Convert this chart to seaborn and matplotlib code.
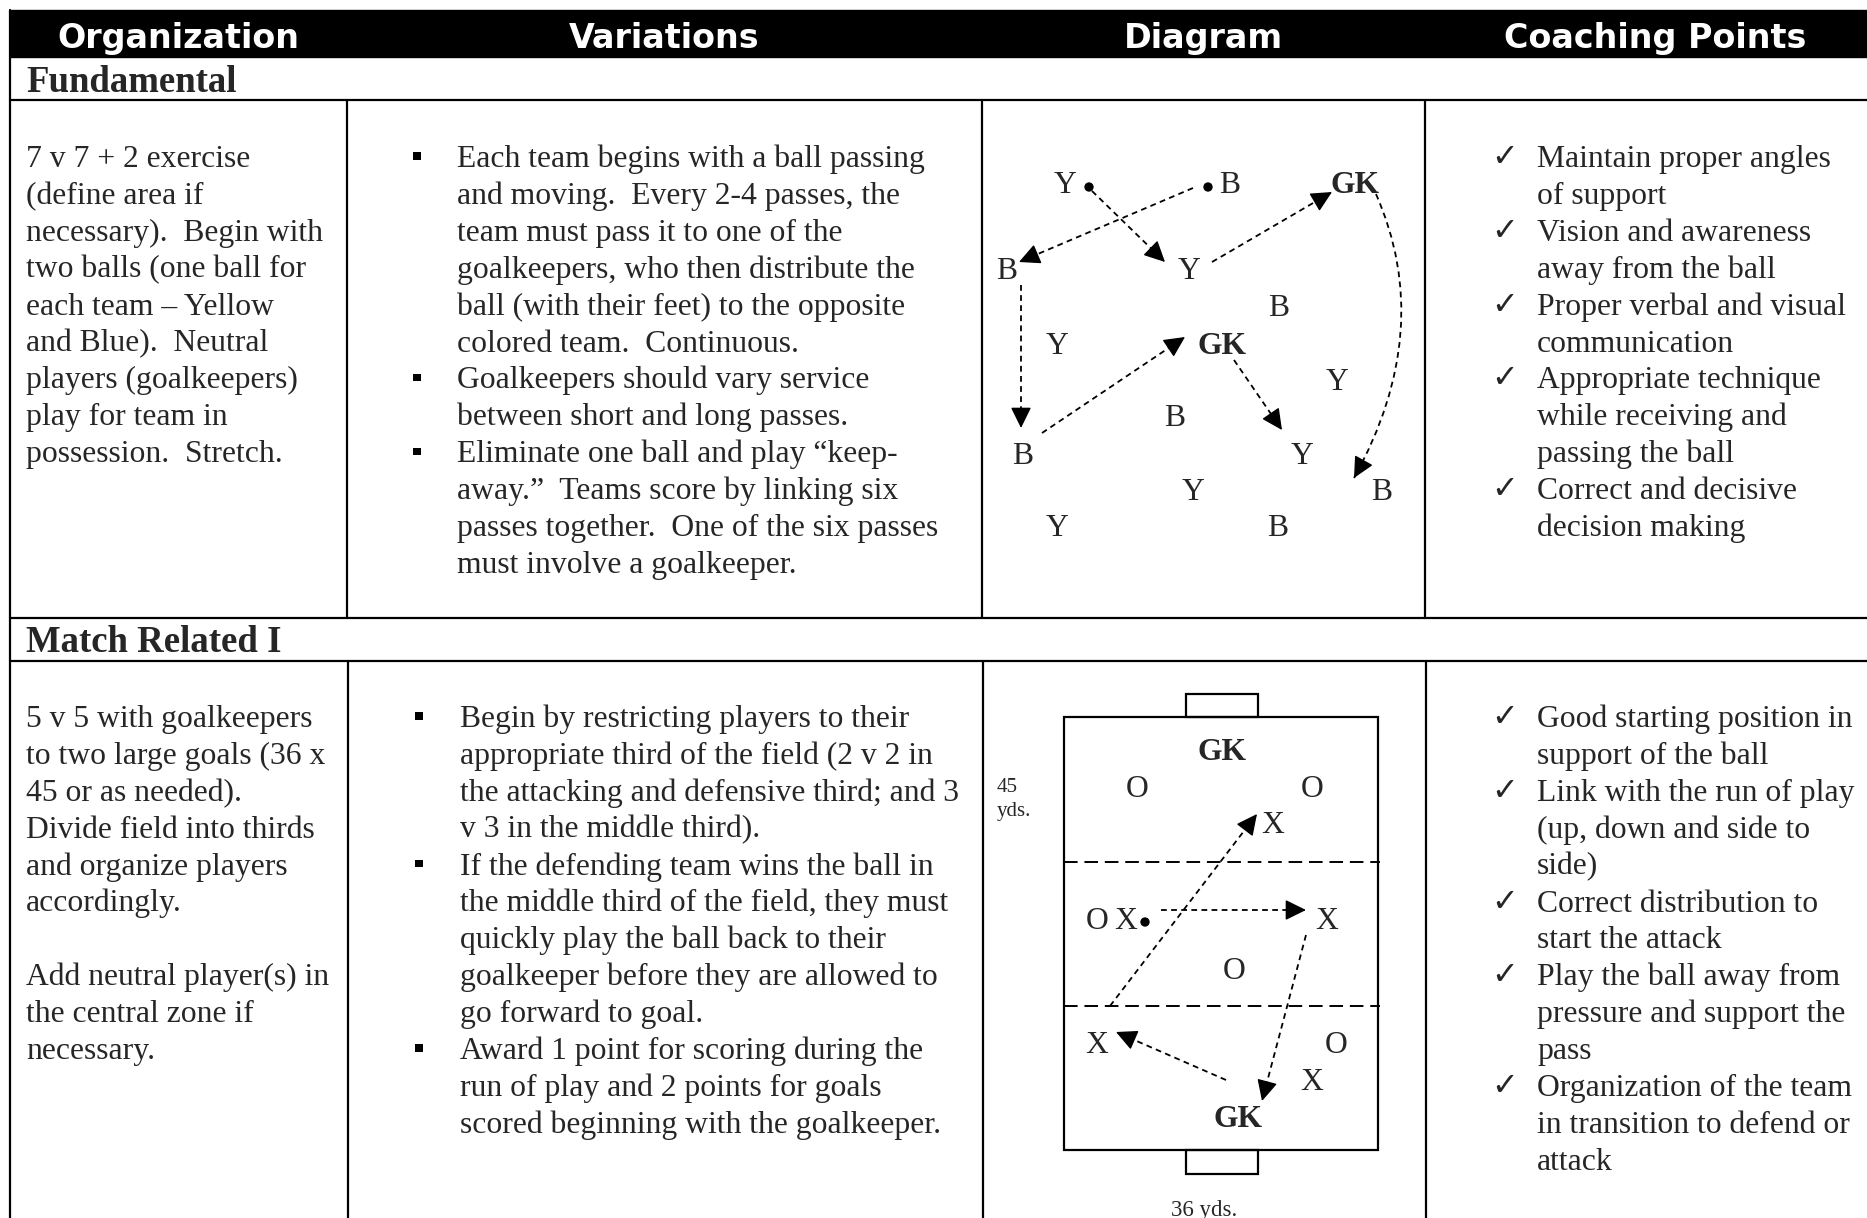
import numpy as np
import pandas as pd
import seaborn as sns
import matplotlib.pyplot as plt
from matplotlib.path import Path
from matplotlib.patches import PathPatch, Rectangle

# ---- table text ----
headers = ['Organization', 'Variations', 'Diagram', 'Coaching Points']
sections = ['Fundamental', 'Match Related I']

org_1 = ['7 v 7 + 2 exercise', '(define area if', 'necessary).  Begin with',
         'two balls (one ball for', 'each team \u2013 Yellow', 'and Blue).  Neutral',
         'players (goalkeepers)', 'play for team in', 'possession.  Stretch.']
var_1 = ['Each team begins with a ball passing', 'and moving.  Every 2-4 passes, the',
         'team must pass it to one of the', 'goalkeepers, who then distribute the',
         'ball (with their feet) to the opposite', 'colored team.  Continuous.',
         'Goalkeepers should vary service', 'between short and long passes.',
         'Eliminate one ball and play \u201ckeep-', 'away.\u201d  Teams score by linking six',
         'passes together.  One of the six passes', 'must involve a goalkeeper.']
var_1_bullets = [0, 6, 8]
coach_1 = ['Maintain proper angles', 'of support', 'Vision and awareness',
           'away from the ball', 'Proper verbal and visual', 'communication',
           'Appropriate technique', 'while receiving and', 'passing the ball',
           'Correct and decisive', 'decision making']
coach_1_checks = [0, 2, 4, 6, 9]

org_2 = ['5 v 5 with goalkeepers', 'to two large goals (36 x', '45 or as needed).',
         'Divide field into thirds', 'and organize players', 'accordingly.', '',
         'Add neutral player(s) in', 'the central zone if', 'necessary.']
var_2 = ['Begin by restricting players to their', 'appropriate third of the field (2 v 2 in',
         'the attacking and defensive third; and 3', 'v 3 in the middle third).',
         'If the defending team wins the ball in', 'the middle third of the field, they must',
         'quickly play the ball back to their', 'goalkeeper before they are allowed to',
         'go forward to goal.', 'Award 1 point for scoring during the',
         'run of play and 2 points for goals', 'scored beginning with the goalkeeper.']
var_2_bullets = [0, 4, 9]
coach_2 = ['Good starting position in', 'support of the ball', 'Link with the run of play',
           '(up, down and side to', 'side)', 'Correct distribution to', 'start the attack',
           'Play the ball away from', 'pressure and support the', 'pass',
           'Organization of the team', 'in transition to defend or', 'attack']
coach_2_checks = [0, 2, 5, 7, 10]

# ---- diagram 1: 7 v 7 + 2 ----
d1_labels = ['Y', 'B', 'GK', 'B', 'Y', 'B', 'Y', 'GK', 'Y', 'B', 'B', 'Y', 'Y', 'B', 'Y', 'B']
d1_x = [1065, 1230, 1355, 1007, 1189, 1279, 1057, 1222, 1337, 1175, 1023, 1302, 1193, 1382, 1057, 1278]
d1_y = [182, 182, 182, 268, 268, 305, 343, 343, 379, 415, 453, 453, 489, 489, 525, 525]
d1_ball_x = [1089, 1208]
d1_ball_y = [187, 187]
d1_pass_x0 = [1092, 1193, 1212, 1021, 1042, 1234]
d1_pass_y0 = [191, 188, 262, 285, 433, 360]
d1_pass_x1 = [1165, 1019, 1332, 1021, 1185, 1282]
d1_pass_y1 = [262, 262, 192, 428, 337, 430]
d1_curve = [(1376, 194), (1436, 330), (1354, 478)]

# ---- diagram 2: 5 v 5 with goalkeepers ----
d2_labels = ['GK', 'O', 'O', 'X', 'O', 'X', 'X', 'O', 'X', 'O', 'X', 'GK']
d2_x = [1222, 1137, 1312, 1273, 1097, 1126, 1327, 1234, 1097, 1336, 1312, 1238]
d2_y = [749, 786, 786, 822, 918, 918, 918, 968, 1042, 1042, 1079, 1116]
d2_ball_x = [1145]
d2_ball_y = [922]
d2_pass_x0 = [1110, 1161, 1306, 1226]
d2_pass_y0 = [1006, 910, 935, 1080]
d2_pass_x1 = [1257, 1306, 1262, 1116]
d2_pass_y1 = [814, 910, 1101, 1032]

# ---- layout ----
col_x = [10, 347, 982, 1425, 1885]
row1_top, row1_bot = 100, 618
row2_top = 661
line_h = 36.9
body_pt = 22.8

sns.set_style('white')
plt.rcParams['font.family'] = ['Liberation Serif', 'DejaVu Sans']

fig = plt.figure(figsize=(18.67, 12.18), dpi=100)
ax = fig.add_axes([0, 0, 1, 1])
ax.set_xlim(0, 1867)
ax.set_ylim(1218, 0)
ax.axis('off')

lw = 1.6
# header band
ax.add_patch(Rectangle((10, 10), 1867, 47, color='black', zorder=1))
for i, h in enumerate(headers):
    ax.text((col_x[i] + col_x[i + 1]) / 2, 48, h, color='white', fontsize=24,
            fontweight='bold', family='DejaVu Sans', ha='center', va='baseline')

# grid lines
for yy in [row1_top, row1_bot, row2_top]:
    ax.plot([10, 1867], [yy, yy], color='black', lw=lw)
ax.plot([10, 10], [10, 1218], color='black', lw=lw)
for cx in col_x[1:4]:
    ax.plot([cx, cx], [row1_top, row1_bot], color='black', lw=lw)
    ax.plot([cx + 1, cx + 1], [row2_top, 1218], color='black', lw=lw)

ax.text(26, 92, sections[0], fontsize=26.5, fontweight='bold', ha='left', va='baseline')
ax.text(26, 652, sections[1], fontsize=26.5, fontweight='bold', ha='left', va='baseline')


def cell(lines, x, base, marks=None, mark_x=None, kind=None):
    for i, s in enumerate(lines):
        yb = base + i * line_h
        ax.text(x, yb, s, fontsize=body_pt, ha='left', va='baseline')
        if marks is not None and i in marks:
            if kind == 'check':
                ax.text(mark_x, yb - 1, '\u2713', fontsize=23, family='DejaVu Sans',
                        ha='left', va='baseline')
            else:
                sns.scatterplot(x=[mark_x], y=[yb - 11], marker='s', s=28,
                                color='black', edgecolor='none', ax=ax, legend=False)


cell(org_1, 26, 167)
cell(var_1, 457, 167, var_1_bullets, 417, 'bullet')
cell(coach_1, 1537, 167, coach_1_checks, 1491, 'check')
cell(org_2, 26, 727)
cell(var_2, 460, 727, var_2_bullets, 419, 'bullet')
cell(coach_2, 1537, 727, coach_2_checks, 1491, 'check')

dash = (0, (3.2, 2.4))
head = '-|>,head_length=0.65,head_width=0.32'


def pass_arrow(x0, y0, x1, y1):
    dx, dy = x1 - x0, y1 - y0
    n = np.hypot(dx, dy)
    ux, uy = dx / n, dy / n
    ax.plot([x0, x1 - ux * 12], [y0, y1 - uy * 12], color='black', lw=1.3, linestyle=dash)
    ax.annotate('', xy=(x1, y1), xytext=(x1 - ux * 16, y1 - uy * 16),
                arrowprops=dict(arrowstyle=head, color='black', lw=1.0,
                                shrinkA=0, shrinkB=0, mutation_scale=20))


def players(labels, xs, ys):
    for lab, px, py in zip(labels, xs, ys):
        ax.text(px, py + 11, lab, fontsize=body_pt, ha='center', va='baseline',
                fontweight='bold' if lab == 'GK' else 'normal')


# diagram 1
players(d1_labels, d1_x, d1_y)
balls1 = pd.DataFrame({'x': d1_ball_x, 'y': d1_ball_y})
sns.scatterplot(data=balls1, x='x', y='y', color='black', s=45, edgecolor='none',
                ax=ax, legend=False)
for a, b, c, d in zip(d1_pass_x0, d1_pass_y0, d1_pass_x1, d1_pass_y1):
    pass_arrow(a, b, c, d)
p0, p1, p2 = d1_curve
ax.add_patch(PathPatch(Path([p0, p1, p2], [Path.MOVETO, Path.CURVE3, Path.CURVE3]),
                       fill=False, lw=1.3, linestyle=dash, edgecolor='black'))
ux, uy = p2[0] - p1[0], p2[1] - p1[1]
n = np.hypot(ux, uy)
ax.annotate('', xy=p2, xytext=(p2[0] - ux / n * 16, p2[1] - uy / n * 16),
            arrowprops=dict(arrowstyle=head, color='black', lw=1.0,
                            shrinkA=0, shrinkB=0, mutation_scale=20))

# diagram 2 field
ax.add_patch(Rectangle((1064, 717), 314, 433, fill=False, lw=1.6, edgecolor='black'))
ax.add_patch(Rectangle((1186, 694), 72, 23, fill=False, lw=1.6, edgecolor='black'))
ax.add_patch(Rectangle((1186, 1150), 72, 24, fill=False, lw=1.6, edgecolor='black'))
for yy in [862, 1006]:
    ax.plot([1064, 1380], [yy, yy], color='black', lw=1.4, linestyle=(0, (7, 3.5)))
ax.text(997, 792, '45', fontsize=15, ha='left', va='baseline')
ax.text(997, 816, 'yds.', fontsize=15, ha='left', va='baseline')
ax.text(1204, 1216, '36 yds.', fontsize=16.5, ha='center', va='baseline')

players(d2_labels, d2_x, d2_y)
balls2 = pd.DataFrame({'x': d2_ball_x, 'y': d2_ball_y})
sns.scatterplot(data=balls2, x='x', y='y', color='black', s=45, edgecolor='none',
                ax=ax, legend=False)
for a, b, c, d in zip(d2_pass_x0, d2_pass_y0, d2_pass_x1, d2_pass_y1):
    pass_arrow(a, b, c, d)

ax.set_xlim(0, 1867)
ax.set_ylim(1218, 0)
fig.savefig('out.png', dpi=100, facecolor='white')
